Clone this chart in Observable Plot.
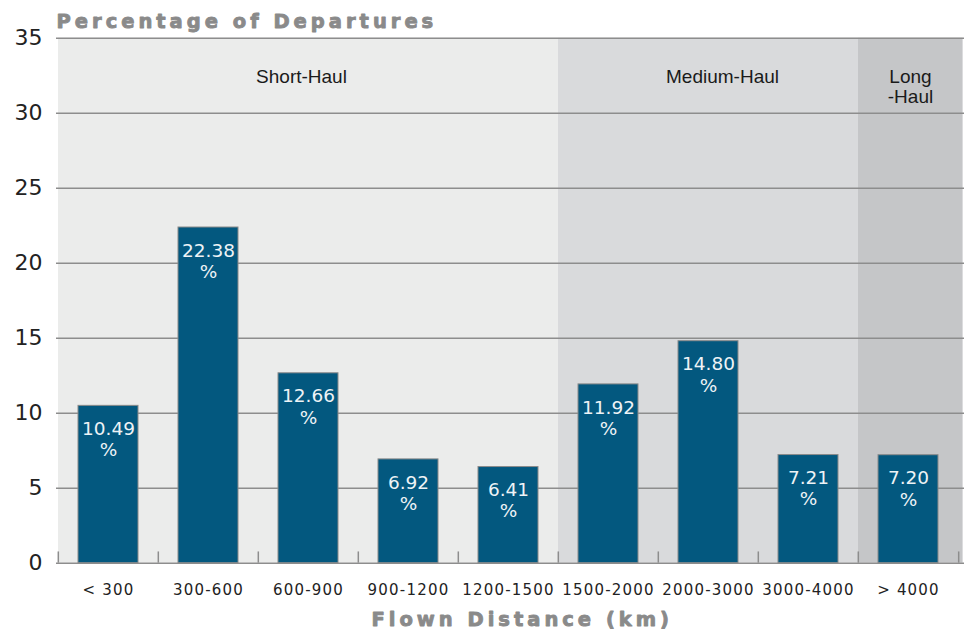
<!DOCTYPE html>
<html>
<head>
<meta charset="utf-8">
<script src="https://cdn.jsdelivr.net/npm/d3@7"></script>
<script src="https://cdn.jsdelivr.net/npm/@observablehq/plot@0.6"></script>
<style>
  html, body { margin: 0; padding: 0; background: #fff; }
  g[aria-description="axis-title"] text { letter-spacing: 4px; }
  g[aria-label="x-axis tick label"] text { letter-spacing: 1.2px; }
</style>
</head>
<body>
<div id="chart"></div>
<script>
// Share of departures by flown distance band
const distanceBands = ["< 300", "300-600", "600-900", "900-1200", "1200-1500",
                       "1500-2000", "2000-3000", "3000-4000", "> 4000"];
const departureShare = [10.49, 22.38, 12.66, 6.92, 6.41, 11.92, 14.80, 7.21, 7.20];
const haulGroup = ["Short-Haul", "Short-Haul", "Short-Haul", "Short-Haul", "Short-Haul",
                   "Medium-Haul", "Medium-Haul", "Medium-Haul", "Long-Haul"];

// Haul groups: key, label and the band the label sits over
const groupKeys = ["Short-Haul", "Medium-Haul", "Long-Haul"];
const groupLabels = ["Short-Haul", "Medium-Haul", "Long\n-Haul"];
const groupAnchorBand = ["600-900", "2000-3000", "> 4000"];

const yTicks = [0, 5, 10, 15, 20, 25, 30, 35];
const yMax = 35;

const titleText = "Percentage of Departures";
const xTitleText = "Flown Distance (km)";

// Layout
const W = 964, H = 632;
const frameLeft = 56, frameRight = 959.4, frameTop = 37.7, frameBottom = 562.7;
const step = (frameRight - frameLeft) / distanceBands.length;
const shade = {"Short-Haul": "#ebeceb", "Medium-Haul": "#d9dadc", "Long-Haul": "#c5c6c8"};
const gridColor = "#8d8d8d";
const titleColor = "#8a8a8a";

const rows = distanceBands.map((band, i) => ({band, value: departureShare[i], group: haulGroup[i]}));
const groups = groupKeys.map((key, i) => ({key, label: groupLabels[i], band: groupAnchorBand[i]}));
const groupDx = {"Short-Haul": -7, "Medium-Haul": 14, "Long-Haul": 2};

const groupText = (g) => Plot.text([g], {
  x: "band", y: yMax, text: "label",
  lineAnchor: "top", dy: 31, dx: groupDx[g.key],
  fontFamily: "Liberation Sans", fontSize: 19, lineHeight: 1.05, fill: "#1a1a1a"
});

const chart = Plot.plot({
  width: W, height: H,
  marginLeft: frameLeft, marginRight: W - frameRight, marginTop: frameTop, marginBottom: H - frameBottom,
  style: {fontFamily: "DejaVu Sans", background: "#fff", overflow: "visible"},
  x: {type: "band", domain: distanceBands, padding: 0},
  y: {domain: [0, yMax]},
  marks: [
    // shaded haul-group backgrounds
    Plot.barY(rows.filter(d => d.group !== "Long-Haul"), {
      x: "band", y1: 0, y2: yMax, fill: d => shade[d.group]
    }),
    Plot.barY(rows.filter(d => d.group === "Long-Haul"), {
      x: "band", y1: 0, y2: yMax, fill: d => shade[d.group], insetRight: -(W - frameRight)
    }),
    // horizontal grid
    Plot.ruleY(yTicks, {stroke: gridColor, strokeWidth: 1.5, insetRight: -(W - frameRight)}),
    // band boundary ticks on the baseline
    Plot.ruleX(distanceBands, {x: d => d, y1: 0, y2: 0.75, dx: -step / 2, stroke: gridColor, strokeWidth: 1.5}),
    Plot.ruleX(distanceBands.slice(-1), {x: d => d, y1: 0, y2: 0.75, dx: step / 2, stroke: gridColor, strokeWidth: 1.5}),
    // bars
    Plot.barY(rows, {
      x: "band", y: "value", fill: "#03587f", stroke: "#8a8a8a", strokeWidth: 1,
      insetLeft: 20, insetRight: 20
    }),
    // value labels inside bars
    Plot.text(rows, {
      x: "band", y: "value", text: d => d.value.toFixed(2) + "\n%",
      lineAnchor: "top", dy: 14, fill: "#eef3f6", fontSize: 18.5, lineHeight: 1.15,
      fontFamily: "DejaVu Sans"
    }),
    // group labels
    ...groups.map(groupText),
    // axes
    Plot.axisY({ticks: yTicks, tickSize: 0, tickPadding: 14, fontSize: 22, color: "#222", label: null}),
    Plot.axisX({tickSize: 0, tickPadding: 21, fontSize: 15, color: "#222", label: null}),
    // titles
    Plot.text([titleText], {
      text: d => d, frameAnchor: "top-left", textAnchor: "start", lineAnchor: "bottom", dy: -10.7,
      fontSize: 19.5, fontWeight: "bold", fill: titleColor, stroke: titleColor, strokeWidth: 0.9,
      fontFamily: "DejaVu Sans", ariaDescription: "axis-title"
    }),
    Plot.text([xTitleText], {
      text: d => d, frameAnchor: "bottom", lineAnchor: "bottom", dy: 62.3, dx: 14,
      fontSize: 19.5, fontWeight: "bold", fill: titleColor, stroke: titleColor, strokeWidth: 0.9,
      fontFamily: "DejaVu Sans", ariaDescription: "axis-title"
    })
  ]
});

document.getElementById("chart").append(chart);
</script>
</body>
</html>
